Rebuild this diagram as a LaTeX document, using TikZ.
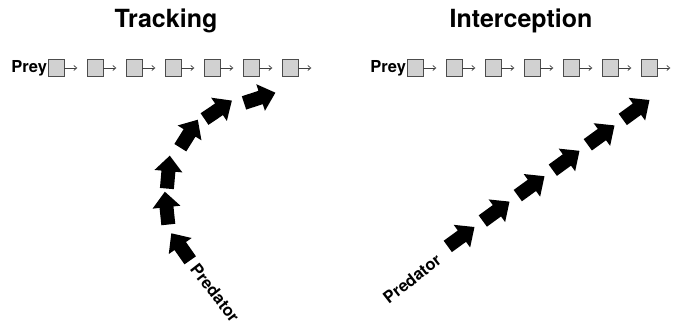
\documentclass[tikz,border=0pt]{standalone}
\usepackage{fontspec}
\setmainfont{TeX Gyre Heros}
\usetikzlibrary{shapes.arrows,arrows.meta}
\begin{document}
\begin{tikzpicture}[x=1pt,y=1pt,
  preybox/.style={draw=black!70, fill=black!18, line width=0.6pt, minimum width=16pt, minimum height=17pt, inner sep=0pt},
  preyarr/.style={draw=black!75, line width=0.7pt, -{Straight Barb[length=3pt,width=5pt]}},
  blockarr/.style={single arrow, fill=black, draw=none, minimum height=33pt, minimum width=0pt,
     inner xsep=0pt, inner ysep=6.8pt, single arrow head extend=7pt, single arrow tip angle=84, single arrow head indent=0pt},
  title/.style={font=\bfseries\fontsize{25}{28}\selectfont, anchor=base, inner sep=0pt},
  lab/.style={font=\bfseries\fontsize{16.5}{18}\selectfont, inner sep=0pt}]
\useasboundingbox (0,0) rectangle (673,-329);
% titles
\node[title] (tt) at (166,-28) {Tracking};
\node[title] (ti) at (521,-28) {Interception};
% left prey row
\foreach \i in {1,...,7} {
  \node[preybox] (a\i) at ({56+39*(\i-1)},-68) {};
  \draw[preyarr] (a\i.east) -- ++(13,0);
}
\node[lab, anchor=east] (pl) at ([xshift=-0.5pt]a1.west) {Prey};
% right prey row
\foreach \i in {1,...,7} {
  \node[preybox] (b\i) at ({415+39*(\i-1)},-68) {};
  \draw[preyarr] (b\i.east) -- ++(13,0);
}
\node[lab, anchor=east] (pr) at ([xshift=-0.5pt]b1.west) {Prey};
% tracking arrows
\node[blockarr, rotate=125] (t1) at (183,-250) {};
\node[blockarr, rotate=96] (t2) at (167,-212) {};
\node[blockarr, rotate=85] (t3) at (168,-176) {};
\node[blockarr, rotate=58] (t4) at (187,-137) {};
\node[blockarr, rotate=34] (t5) at (215,-112) {};
\node[blockarr, rotate=18] (t6) at (256,-99) {};
\node[lab, rotate=-52] (predl) at (215,-293) {Predator};
% interception arrows
\foreach \i in {0,...,5} {
  \node[blockarr, rotate=36] (i\i) at ({458+35*\i},{-239+25.4*\i}) {};
}
\node[lab, rotate=38] (predr) at (412,-279) {Predator};
\end{tikzpicture}
\end{document}
